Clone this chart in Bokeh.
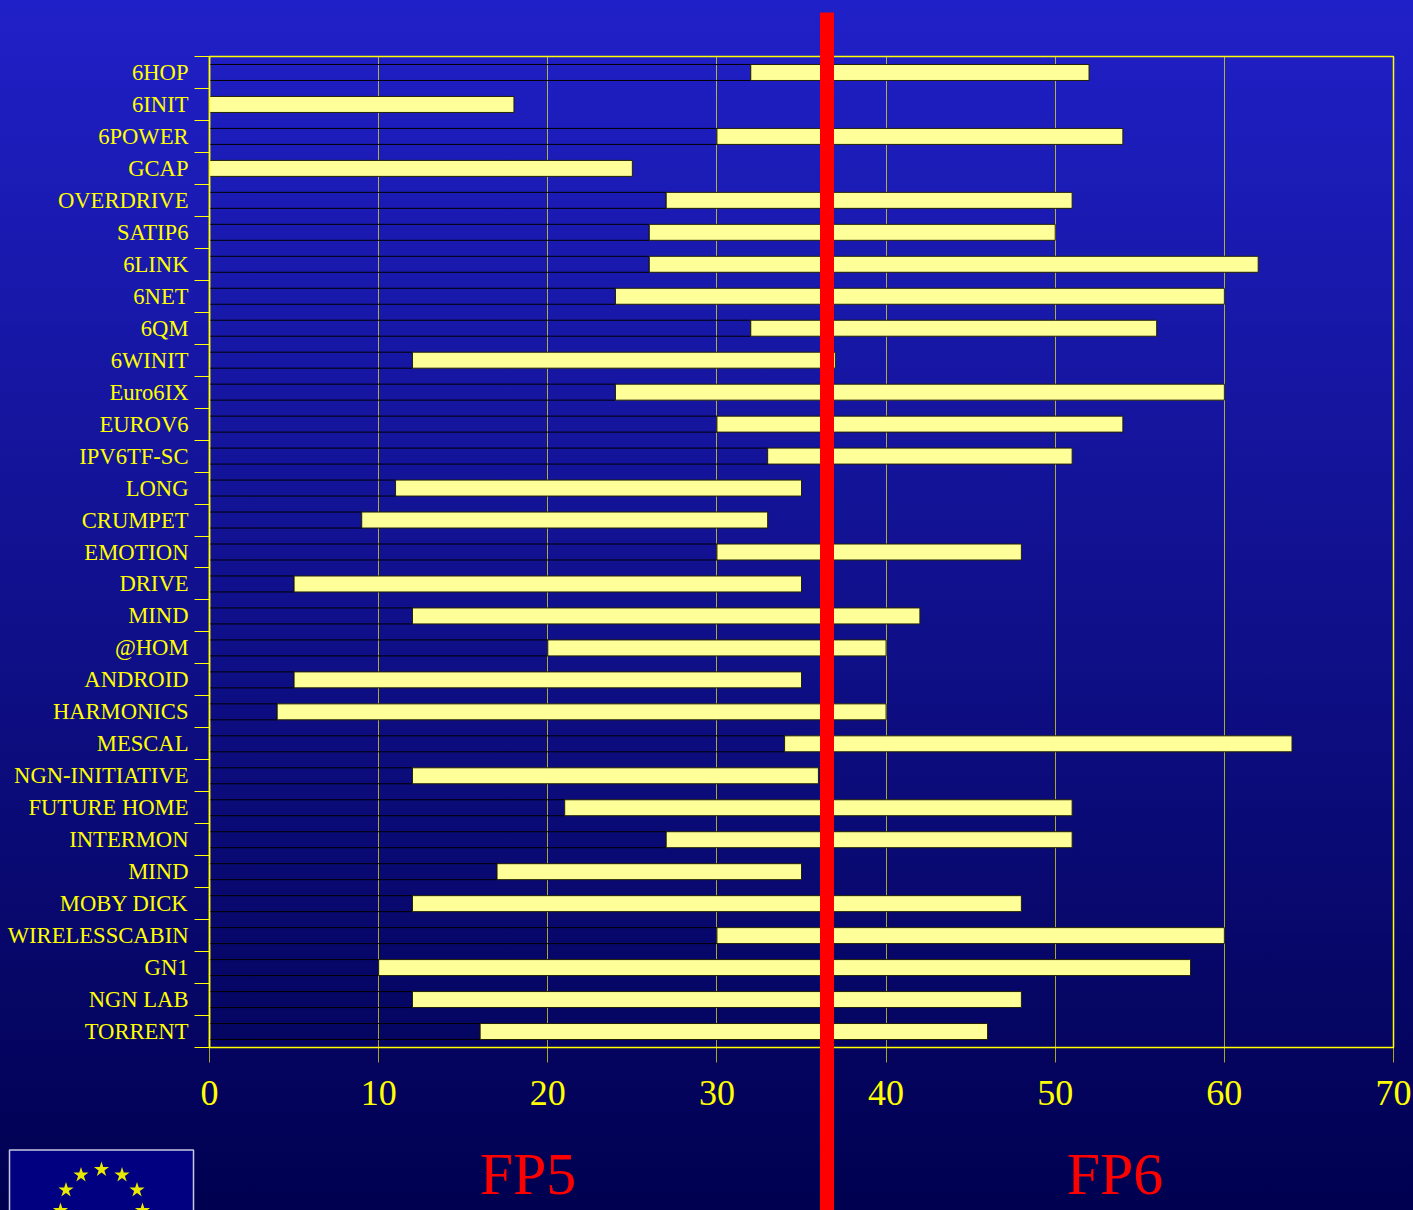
import math
from bokeh.plotting import figure
from bokeh.models import ColumnDataSource, FixedTicker
from bokeh.core.properties import value
from bokeh.embed import file_html
from bokeh.resources import INLINE

projects = ["6HOP","6INIT","6POWER","GCAP","OVERDRIVE","SATIP6","6LINK","6NET","6QM","6WINIT","Euro6IX","EUROV6",
            "IPV6TF-SC","LONG","CRUMPET","EMOTION","DRIVE","MIND","@HOM","ANDROID","HARMONICS","MESCAL",
            "NGN-INITIATIVE","FUTURE HOME","INTERMON","MIND","MOBY DICK","WIRELESSCABIN","GN1","NGN LAB","TORRENT"]
start = [32,0,30,0,27,26,26,24,32,12,24,30,33,11,9,30,5,12,20,5,4,34,12,21,27,17,12,30,10,12,16]
end = [52,18,54,25,51,50,62,60,56,37,60,54,51,35,33,48,35,42,40,35,40,64,36,51,51,35,48,60,58,48,46]
x_ticks = [0,10,20,30,40,50,60,70]
programmes = ["FP5", "FP6"]

YEL = "#ffff00"
SERIF = "Liberation Serif"
n = len(projects)
W, H = 1413, 1210
L, R, T, B = 209, 1393, 56, 1047

p = figure(width=W, height=H, output_backend="svg", toolbar_location=None,
           x_range=(0, 70), y_range=(n, 0), tools="",
           min_border_left=L, min_border_right=W-R, min_border_top=T, min_border_bottom=H-B,
           border_fill_color=None, background_fill_color=None,
           outline_line_color=YEL, outline_line_width=1.5)
p.styles = {"background": "linear-gradient(180deg, #2020c8 0%, #000050 100%)"}

centers = [i + 0.5 for i in range(n)]
src = ColumnDataSource(dict(y=centers, start=start, end=end))

p.xgrid.ticker = FixedTicker(ticks=x_ticks)
p.xgrid.grid_line_color = YEL
p.xgrid.grid_line_alpha = 0.65
p.xgrid.grid_line_width = 1
p.ygrid.visible = False

# the hidden first stack, only its black outline shows
hidden = ColumnDataSource(dict(y=[c for c, s in zip(centers, start) if s > 0],
                               s=[s for s in start if s > 0],
                               z=[0 for s in start if s > 0]))
p.hbar(y="y", left="z", right="s", height=0.5, source=hidden, fill_color=None, line_color="#000000", line_width=1)
p.hbar(y="y", left="start", right="end", height=0.5, source=src, fill_color="#ffff99", line_color="#222200", line_width=1)

ax = p.xaxis[0]
ax.ticker = FixedTicker(ticks=x_ticks)
ax.axis_line_color = YEL
ax.major_tick_line_color = YEL
ax.major_tick_line_alpha = 0.65
ax.major_tick_out = 15
ax.major_tick_in = 0
ax.minor_tick_line_color = None
ax.major_label_text_color = YEL
ax.major_label_text_font = SERIF
ax.major_label_text_font_size = "36px"
ax.major_label_standoff = 18

ay = p.yaxis[0]
ay.ticker = FixedTicker(ticks=centers, minor_ticks=list(range(n + 1)))
ay.major_label_overrides = {c: name for c, name in zip(centers, projects)}
ay.axis_line_color = YEL
ay.axis_line_width = 1.5
ay.major_tick_line_color = None
ay.major_tick_out = 0
ay.major_tick_in = 0
ay.minor_tick_line_color = YEL
ay.minor_tick_out = 15
ay.minor_tick_in = 0
ay.major_label_text_color = YEL
ay.major_label_text_font = SERIF
ay.major_label_text_font_size = "22.6px"
ay.major_label_standoff = 6

# transparent layer in page pixels for what lies outside of the plot frame
o = figure(width=W, height=H, output_backend="svg", toolbar_location=None, tools="",
           x_range=(0, W), y_range=(H, 0), min_border=0, x_axis_type=None, y_axis_type=None,
           border_fill_color=None, background_fill_color=None, outline_line_color=None,
           margin=(-H, 0, 0, 0))
o.xgrid.visible = False
o.ygrid.visible = False
o.quad(left=[819.5], right=[833.5], top=[12], bottom=[H], fill_color="#ff0000", line_color=None)
o.text(x=[527.5, 1114.5], y=[1173, 1173], text=programmes, text_color="#ff0000", text_font=value(SERIF),
       text_font_size="60px", text_align="center", text_baseline="middle")
o.quad(left=[9], right=[193], top=[1149.5], bottom=[H + 5], fill_color="#000080",
       line_color="#c8c8e0", line_width=1.5)
sx = [101 + 41 * math.sin(math.radians(d)) for d in (-90, -60, -30, 0, 30, 60, 90)]
sy = [1210 - 41 * math.cos(math.radians(d)) for d in (-90, -60, -30, 0, 30, 60, 90)]
o.scatter(x=sx, y=sy, marker="star", size=16, fill_color="#e8e800", line_color=None)

open("out.html", "w").write(file_html((p, o), INLINE))
